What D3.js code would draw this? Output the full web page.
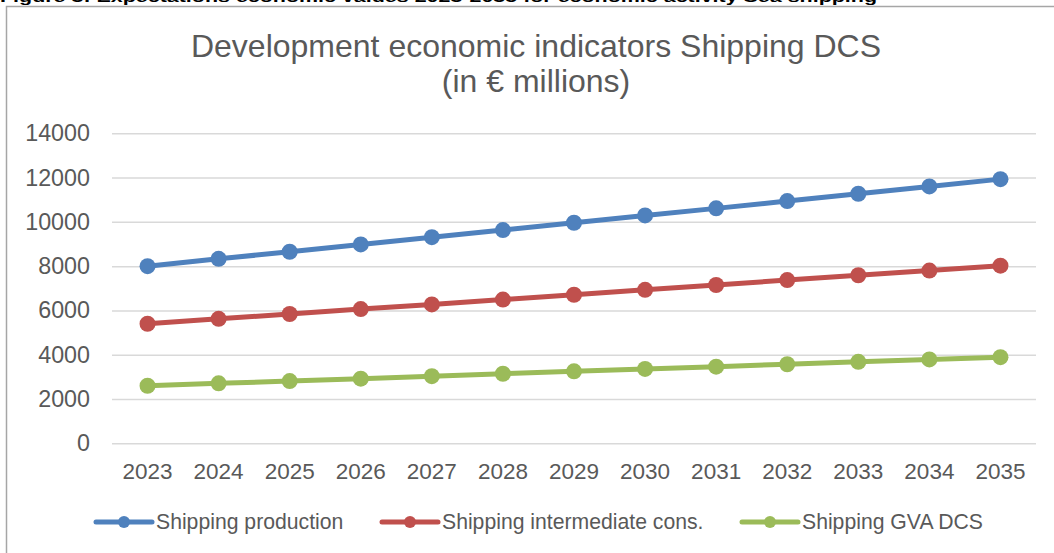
<!DOCTYPE html>
<html>
<head>
<meta charset="utf-8">
<script src="https://cdn.jsdelivr.net/npm/d3@7"></script>
<style>
  html, body { margin: 0; padding: 0; background: #fff; }
  svg { display: block; font-family: "Liberation Sans", Arial, sans-serif; }
</style>
</head>
<body>
<svg id="chart" width="1054" height="553"></svg>
<script>
// Years on the category axis
const years = ["2023","2024","2025","2026","2027","2028","2029","2030","2031","2032","2033","2034","2035"];

// Series values (€ millions)
const production = [8000, 8330, 8650, 8980, 9310, 9630, 9960, 10290, 10610, 10940, 11270, 11600, 11930];
const intermediate = [5400, 5620, 5840, 6060, 6270, 6490, 6710, 6930, 7150, 7370, 7590, 7800, 8020];
const gva = [2600, 2710, 2810, 2920, 3030, 3140, 3250, 3360, 3460, 3570, 3680, 3790, 3890];

const seriesNames = ["Shipping production", "Shipping intermediate cons.", "Shipping GVA DCS"];
const seriesColors = ["#4F81BD", "#C0504D", "#9BBB59"];
const yTicks = [0, 2000, 4000, 6000, 8000, 10000, 12000, 14000];

const caption = "Figure 3: Expectations economic values 2023-2035 for economic activity Sea shipping";
const titleLines = ["Development economic indicators Shipping DCS", "(in \u20AC millions)"];

const series = [production, intermediate, gva].map((vals, i) => ({
  name: seriesNames[i],
  color: seriesColors[i],
  values: vals.map((v, j) => ({ year: years[j], value: v }))
}));

const svg = d3.select("#chart");

// Document caption above the chart frame (partly cut off at the top)
svg.append("text")
  .attr("x", 0).attr("y", 2)
  .attr("font-weight", "bold")
  .attr("font-size", 15)
  .attr("fill", "#000")
  .attr("textLength", 877)
  .attr("lengthAdjust", "spacingAndGlyphs")
  .text(caption);

// Chart frame (left and top edges)
svg.append("path")
  .attr("d", "M6.5,553 V6.5 H1054")
  .attr("fill", "none")
  .attr("stroke", "#a6a6a6")
  .attr("stroke-width", 1.5);

// Title
const title = svg.append("text")
  .attr("text-anchor", "middle")
  .attr("fill", "#595959")
  .attr("font-size", 32);
title.append("tspan").attr("x", 536).attr("y", 57).text(titleLines[0]);
title.append("tspan").attr("x", 536).attr("y", 92).text(titleLines[1]);

// Scales
const plot = { left: 112, right: 1036, top: 133.3, bottom: 443.3 };
const x = d3.scaleBand().domain(years).range([plot.left, plot.right]);
const y = d3.scaleLinear().domain([0, 14000]).range([plot.bottom, plot.top]);
const cx = d => x(d) + x.bandwidth() / 2;

// Horizontal gridlines with value labels
const yAxis = d3.axisLeft(y).tickValues(yTicks).tickSize(-(plot.right - plot.left)).tickPadding(22).tickFormat(d3.format("d"));
const gy = svg.append("g").attr("transform", `translate(${plot.left},0)`).call(yAxis);
gy.select(".domain").remove();
gy.selectAll(".tick line").attr("stroke", "#d9d9d9").attr("stroke-width", 1.5);
gy.selectAll(".tick text")
  .attr("fill", "#595959")
  .attr("font-size", 23.3)
  .attr("font-family", "Liberation Sans, Arial, sans-serif");

// Category labels
const xAxis = d3.axisBottom(x).tickSize(0).tickPadding(20);
const gx = svg.append("g").attr("transform", `translate(0,${plot.bottom})`).call(xAxis);
gx.select(".domain").remove();
gx.selectAll(".tick text")
  .attr("fill", "#595959")
  .attr("font-size", 22.5)
  .attr("font-family", "Liberation Sans, Arial, sans-serif");

// Lines and markers
const line = d3.line().x(d => cx(d.year)).y(d => y(d.value));
const gs = svg.append("g").selectAll("g").data(series).join("g");
gs.append("path")
  .attr("d", d => line(d.values))
  .attr("fill", "none")
  .attr("stroke", d => d.color)
  .attr("stroke-width", 5)
  .attr("stroke-linejoin", "round")
  .attr("stroke-linecap", "round");
gs.selectAll("circle")
  .data(d => d.values.map(v => ({ ...v, color: d.color })))
  .join("circle")
  .attr("cx", d => cx(d.year))
  .attr("cy", d => y(d.value))
  .attr("r", 8)
  .attr("fill", d => d.color);

// Legend
const legendX = [96, 382, 742];
const legend = svg.append("g").selectAll("g").data(series).join("g")
  .attr("transform", (d, i) => `translate(${legendX[i]},522)`);
legend.append("line")
  .attr("x1", 0).attr("x2", 56).attr("y1", 0).attr("y2", 0)
  .attr("stroke", d => d.color).attr("stroke-width", 5).attr("stroke-linecap", "round");
legend.append("circle").attr("cx", 28).attr("cy", 0).attr("r", 6).attr("fill", d => d.color);
legend.append("text")
  .attr("x", 60).attr("y", 0).attr("dy", "0.35em")
  .attr("fill", "#595959").attr("font-size", 21.2)
  .text(d => d.name);
</script>
</body>
</html>
